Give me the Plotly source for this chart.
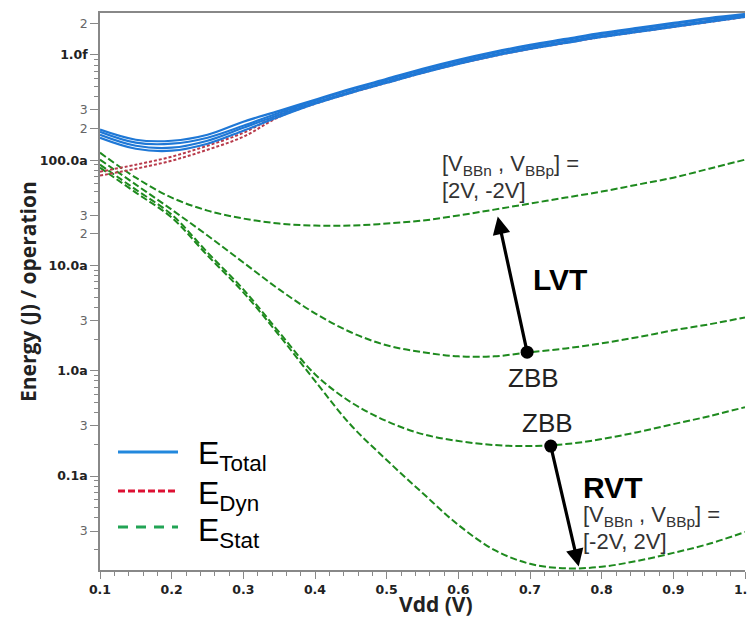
import math
import plotly.graph_objects as go

# ---------------- data (energy per operation in aJ) ----------------
VDD = [0.1, 0.15, 0.2, 0.25, 0.3, 0.35, 0.4, 0.45, 0.5, 0.55,
       0.6, 0.65, 0.7, 0.75, 0.8, 0.85, 0.9, 0.95, 1.0]

E_TOTAL_1 = [195, 156.4, 153, 174.5, 232, 294, 375, 476, 592, 737,
             897, 1068, 1244, 1418, 1616, 1803, 2011, 2242, 2447]
E_TOTAL_2 = [186, 146.5, 143.3, 163.4, 212, 282, 366, 466, 579, 721,
             877, 1045, 1217, 1387, 1581, 1764, 1968, 2194, 2394]
E_TOTAL_3 = [174.5, 137.2, 131.4, 153, 203, 270, 351, 446, 555, 690,
             840, 1000, 1165, 1328, 1514, 1689, 1884, 2101, 2343]
E_TOTAL_4 = [163.4, 128.5, 123.0, 143.3, 190.5, 258, 343, 436, 543, 675,
             822, 978, 1140, 1299, 1481, 1652, 1843, 2055, 2292]

E_DYN_1 = [77.8, 90.6, 108.0, 137.2, 182, 270, 351, 446, 555, 690,
           840, 1000, 1165, 1328, 1514, 1689, 1884, 2101, 2343]
E_DYN_2 = [71.3, 83.0, 98.9, 125.7, 167, 258, 343, 436, 543, 675,
           822, 978, 1140, 1299, 1481, 1652, 1843, 2055, 2292]

E_STAT_LVT_FBB = [117.8, 68.2, 44.1, 33.2, 27.9, 25.0, 23.9, 23.9, 25.0, 26.7,
                  29.8, 33.9, 38.7, 44.1, 50.3, 58.6, 68.2, 83.0, 101.1]
E_STAT_LVT_ZBB = [101.1, 58.6, 33.9, 19.25, 10.67, 5.92, 3.51, 2.32, 1.745, 1.50,
                  1.37, 1.37, 1.50, 1.63, 1.82, 2.08, 2.42, 2.76, 3.21]
E_STAT_RVT_ZBB = [90.6, 52.5, 30.4, 13.28, 5.92, 2.32, 0.927, 0.503, 0.332, 0.250,
                  0.215, 0.197, 0.1925, 0.201, 0.224, 0.261, 0.311, 0.370, 0.451]
E_STAT_RVT_RBB = [84.9, 49.2, 28.5, 12.44, 5.55, 2.17, 0.80, 0.305, 0.142, 0.0690,
                  0.0343, 0.0199, 0.01465, 0.01328, 0.01373, 0.01564, 0.01862, 0.0227, 0.0294]

Y_TICK_VALS = [2000, 1000, 300, 200, 100, 30, 20, 10, 3, 1, 0.3, 0.1, 0.03]
Y_TICK_LABELS = ["2", "1.0f", "3", "2", "100.0a", "3", "2", "10.0a", "3", "1.0a", "3", "0.1a", "3"]
X_TICK_VALS = [0.1, 0.2, 0.3, 0.4, 0.5, 0.6, 0.7, 0.8, 0.9, 1.0]
X_TICK_LABELS = ["0.1", "0.2", "0.3", "0.4", "0.5", "0.6", "0.7", "0.8", "0.9", "1.0"]

# arrow end points (Vdd, energy aJ)
LVT_DOT = (0.696, 1.50)
LVT_HEAD = (0.655, 29.1)
RVT_DOT = (0.729, 0.1925)
RVT_HEAD = (0.768, 0.0138)

Y_MIN, Y_MAX = 0.0128, 2500

# ---------------- styles ----------------
BLUE = "#1f78d6"
RED = "#b83a4b"
GREEN = "#1e8a1e"
LEG_BLUE = "#2288dd"
LEG_RED = "#dd1133"
LEG_GREEN = "#22a455"

W, H = 747, 619
L, R, T, B = 100, 2, 13, 49
PW, PH = W - L - R, H - T - B


def px_x(p):
    return (p - L) / PW


def px_y(p):
    return (H - B - p) / PH


fig = go.Figure()

for arr in [E_STAT_LVT_FBB, E_STAT_LVT_ZBB, E_STAT_RVT_ZBB, E_STAT_RVT_RBB]:
    fig.add_trace(go.Scatter(x=VDD, y=arr, mode="lines",
                             line=dict(color=GREEN, width=2, dash="7px,3px", shape="spline"),
                             showlegend=False, hoverinfo="skip"))
for arr in [E_DYN_1, E_DYN_2]:
    fig.add_trace(go.Scatter(x=VDD, y=arr, mode="lines",
                             line=dict(color=RED, width=2, dash="3px,2px", shape="spline"),
                             showlegend=False, hoverinfo="skip"))
for arr in [E_TOTAL_1, E_TOTAL_2, E_TOTAL_3, E_TOTAL_4]:
    fig.add_trace(go.Scatter(x=VDD, y=arr, mode="lines",
                             line=dict(color=BLUE, width=2.2, shape="spline"),
                             showlegend=False, hoverinfo="skip"))

# arrow tail dots
fig.add_trace(go.Scatter(x=[LVT_DOT[0], RVT_DOT[0]], y=[LVT_DOT[1], RVT_DOT[1]],
                         mode="markers", marker=dict(color="black", size=13),
                         showlegend=False, hoverinfo="skip"))

annotations = []
for head, tail in [(LVT_HEAD, LVT_DOT), (RVT_HEAD, RVT_DOT)]:
    annotations.append(dict(x=head[0], y=math.log10(head[1]), xref="x", yref="y",
                            ax=tail[0], ay=math.log10(tail[1]), axref="x", ayref="y",
                            text="", showarrow=True, arrowhead=2, arrowsize=1.1,
                            arrowwidth=3.2, arrowcolor="black", standoff=0))

TXT = "#222222"
lab_font = dict(family="Liberation Sans, Arial", size=22, color="#333333")
bb = "[V<sub>BBn</sub> , V<sub>BBp</sub>] ="


def add_text(text, px, py, font, xanchor="left"):
    annotations.append(dict(x=px_x(px), y=px_y(py), xref="paper", yref="paper",
                            text=text, showarrow=False, xanchor=xanchor, yanchor="middle",
                            font=font))


add_text(bb, 440, 165, lab_font)
add_text("[2V, -2V]", 440, 190, lab_font)
add_text(bb, 581, 516, lab_font)
add_text("[-2V, 2V]", 581, 541, lab_font)
bold_font = dict(family="Liberation Sans, Arial", size=30, color="black")
add_text("<b>LVT</b>", 531, 279, bold_font)
add_text("<b>RVT</b>", 581, 487, bold_font)
zbb_font = dict(family="Liberation Sans, Arial", size=26, color=TXT)
add_text("ZBB", 533, 378, zbb_font, xanchor="center")
add_text("ZBB", 547, 423, zbb_font, xanchor="center")

# legend
leg_font = dict(family="Liberation Sans, Arial", size=32, color="black")
add_text("E<sub>Total</sub>", 196, 455, leg_font)
add_text("E<sub>Dyn</sub>", 196, 495, leg_font)
add_text("E<sub>Stat</sub>", 196, 532, leg_font)

shapes = []
for col, py, dash in [(LEG_BLUE, 452, "solid"), (LEG_RED, 491, "7px,3px"), (LEG_GREEN, 527, "10px,8px")]:
    shapes.append(dict(type="line", xref="paper", yref="paper",
                       x0=px_x(118), x1=px_x(178), y0=px_y(py), y1=px_y(py),
                       line=dict(color=col, width=3, dash=dash)))

# axis titles
title_font = dict(family="Open Sans", size=21, color=TXT)
annotations.append(dict(x=px_x(28), y=px_y(292), xref="paper", yref="paper",
                        text="<b>Energy (J) / operation</b>", showarrow=False, textangle=-90,
                        xanchor="center", yanchor="middle", font=title_font))
annotations.append(dict(x=px_x(436), y=px_y(604), xref="paper", yref="paper",
                        text="<b>Vdd (V)</b>", showarrow=False,
                        xanchor="center", yanchor="middle", font=title_font))

# tick text
y_text = []
for v, t in zip(Y_TICK_VALS, Y_TICK_LABELS):
    if t in ("2", "3"):
        y_text.append("<span style='color:#666666'>" + t + "</span>")
    else:
        y_text.append("<b>" + t + "</b>")
minor_y = []
for dec in [0.01, 0.1, 1, 10, 100, 1000]:
    for k in range(2, 10):
        v = round(k * dec, 6)
        if Y_MIN <= v <= Y_MAX and not any(abs(v - m) < 1e-9 for m in Y_TICK_VALS):
            minor_y.append(v)

AX_COL = "#888888"
fig.update_layout(
    width=W, height=H, template="none",
    margin=dict(l=L, r=R, t=T, b=B, pad=0),
    paper_bgcolor="white", plot_bgcolor="white",
    showlegend=False,
    annotations=annotations, shapes=shapes,
    xaxis=dict(range=[0.1, 1.0], showgrid=False, zeroline=False,
               showline=True, linecolor=AX_COL, linewidth=1.5, mirror=True,
               ticks="outside", ticklen=7, tickwidth=1.2, tickcolor=AX_COL,
               tickmode="array", tickvals=X_TICK_VALS,
               ticktext=["<b>" + t + "</b>" for t in X_TICK_LABELS],
               tickfont=dict(family="DejaVu Sans", size=12.5, color=TXT),
               ticklabeloverflow="allow",
               minor=dict(ticks="outside", ticklen=4, tickcolor=AX_COL, tickwidth=1, dtick=0.02,
                          showgrid=False),
               automargin=False),
    yaxis=dict(type="log", range=[math.log10(Y_MIN), math.log10(Y_MAX)],
               showgrid=False, zeroline=False,
               showline=True, linecolor=AX_COL, linewidth=1.5,
               ticks="outside", ticklen=8, tickwidth=1.2, tickcolor=AX_COL,
               tickmode="array", tickvals=Y_TICK_VALS, ticktext=y_text,
               tickfont=dict(family="DejaVu Sans", size=12.5, color=TXT),
               minor=dict(ticks="outside", ticklen=4, tickcolor=AX_COL, tickwidth=1,
                          tickmode="array", tickvals=minor_y, showgrid=False),
               automargin=False),
)

fig.write_html("out.html", config={"displayModeBar": False},
               post_script="document.body.style.margin='0px';")
